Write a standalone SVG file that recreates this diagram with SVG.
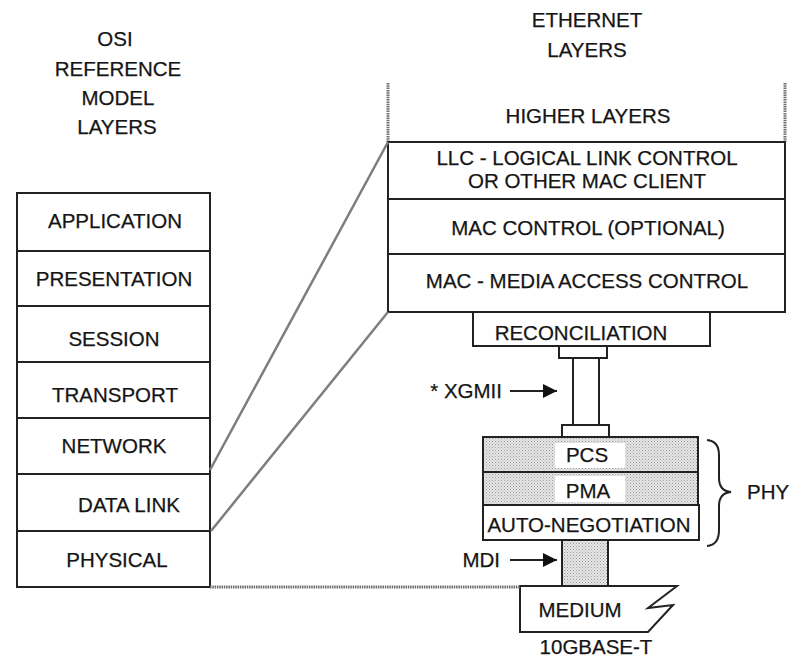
<svg xmlns="http://www.w3.org/2000/svg" width="789" height="658" viewBox="0 0 789 658">
  <defs>
    <pattern id="stipple" width="3" height="3" patternUnits="userSpaceOnUse">
      <rect width="3" height="3" fill="#e6e6e6"/>
      <rect width="1" height="1" fill="#9a9a9a"/>
      <rect x="1.5" y="1.5" width="1" height="1" fill="#b0b0b0"/>
    </pattern>
    <marker id="arrow" viewBox="0 0 10 10" refX="10" refY="5" markerWidth="14" markerHeight="14" markerUnits="userSpaceOnUse" orient="auto">
      <path d="M0,0 L10,5 L0,10 Z" fill="#111"/>
    </marker>
  </defs>
  <style>
    text { font-family: "Liberation Sans", Arial, sans-serif; font-size: 20.5px; fill: #151515; stroke: #151515; stroke-width: 0.25; }
    .c { text-anchor: middle; }
    .e { text-anchor: end; }
    .box { fill: #fff; stroke: #222; stroke-width: 2; }
    .shade { fill: url(#stipple); stroke: #222; stroke-width: 2; }
    .line { fill: none; stroke: #222; stroke-width: 2; }
    .hatch { fill: none; stroke: #6e6e6e; stroke-width: 3; stroke-dasharray: 1.5 0.8; }
    .slant { fill: none; stroke: #7e7e7e; stroke-width: 2.5; }
  </style>

  <rect width="789" height="658" fill="#fff"/>

  <!-- column headings -->
  <g id="osi-heading">
    <text class="c" x="115" y="46">OSI</text>
    <text class="c" x="118" y="76">REFERENCE</text>
    <text class="c" x="118" y="105">MODEL</text>
    <text class="c" x="117" y="134">LAYERS</text>
  </g>
  <g id="ethernet-heading">
    <text class="c" x="587" y="27">ETHERNET</text>
    <text class="c" x="587" y="57">LAYERS</text>
  </g>

  <!-- OSI seven-layer stack -->
  <g id="osi-application"><rect class="box" x="17" y="193" width="193" height="58"/><text class="c" x="115" y="228">APPLICATION</text></g>
  <g id="osi-presentation"><rect class="box" x="17" y="251" width="193" height="55"/><text class="c" x="114" y="286">PRESENTATION</text></g>
  <g id="osi-session"><rect class="box" x="17" y="306" width="193" height="56"/><text class="c" x="114" y="346">SESSION</text></g>
  <g id="osi-transport"><rect class="box" x="17" y="362" width="193" height="56"/><text class="c" x="115" y="402">TRANSPORT</text></g>
  <g id="osi-network"><rect class="box" x="17" y="418" width="193" height="56"/><text class="c" x="114" y="453">NETWORK</text></g>
  <g id="osi-datalink"><rect class="box" x="17" y="474" width="193" height="57"/><text class="c" x="129" y="512">DATA LINK</text></g>
  <g id="osi-physical"><rect class="box" x="17" y="531" width="193" height="56"/><text class="c" x="117" y="567">PHYSICAL</text></g>

  <!-- Ethernet stack -->
  <g id="eth-higher">
    <line class="hatch" x1="388" y1="83" x2="388" y2="142"/>
    <line class="hatch" x1="785" y1="83" x2="785" y2="142"/>
    <text class="c" x="588" y="123">HIGHER LAYERS</text>
  </g>
  <g id="eth-llc"><rect class="box" x="388" y="142" width="397" height="57"/>
    <text class="c" x="587" y="165">LLC - LOGICAL LINK CONTROL</text>
    <text class="c" x="587" y="188">OR OTHER MAC CLIENT</text></g>
  <g id="eth-mac-control"><rect class="box" x="388" y="199" width="397" height="55"/><text class="c" x="588" y="235">MAC CONTROL (OPTIONAL)</text></g>
  <g id="eth-mac"><rect class="box" x="388" y="254" width="397" height="58"/><text class="c" x="587" y="288">MAC - MEDIA ACCESS CONTROL</text></g>
  <g id="eth-reconciliation"><rect class="box" x="473" y="312" width="237" height="34"/><text class="c" x="581" y="340">RECONCILIATION</text></g>

  <!-- XGMII interface column -->
  <g id="xgmii">
    <rect class="box" x="559" y="346" width="48" height="12"/>
    <rect class="box" x="573" y="358" width="26" height="67"/>
    <rect class="box" x="562" y="425" width="47" height="12"/>
  </g>

  <!-- PHY sublayers -->
  <g id="phy-pcs"><rect class="shade" x="483" y="437" width="215" height="35"/>
    <rect x="555" y="443" width="70" height="25" fill="#fff"/>
    <text class="c" x="587" y="462">PCS</text></g>
  <g id="phy-pma"><rect class="shade" x="483" y="472" width="215" height="33"/>
    <rect x="555" y="476" width="70" height="26" fill="#fff"/>
    <text class="c" x="588" y="498">PMA</text></g>
  <g id="phy-autoneg"><rect class="box" x="483" y="505" width="216" height="35"/><text class="c" x="589" y="532">AUTO-NEGOTIATION</text></g>

  <!-- MDI column and medium -->
  <g id="mdi"><rect class="shade" x="562" y="540" width="46" height="46"/></g>
  <g id="medium">
    <path class="box" d="M520,586 L677,586 L648,608 L673,605 L648,632 L520,632 Z"/>
    <text class="c" x="580" y="617">MEDIUM</text>
    <text class="c" x="596" y="654">10GBASE-T</text>
  </g>

  <!-- PHY brace -->
  <g id="phy-brace">
    <path class="line" stroke-width="1.6" d="M707,440 Q719,441 719,455 L719,478 Q719,491 731,492 Q719,493 719,506 L719,530 Q719,545 707,546"/>
    <text x="747" y="499">PHY</text>
  </g>

  <!-- mapping lines and interface pointers -->
  <g id="connectors">
    <line class="slant" x1="210" y1="470" x2="388" y2="142"/>
    <line class="slant" x1="211" y1="531" x2="388" y2="312"/>
    <line class="hatch" x1="210" y1="587" x2="520" y2="587"/>
    <text class="e" x="502" y="398">* XGMII</text>
    <line class="line" x1="510" y1="391" x2="557" y2="391" marker-end="url(#arrow)"/>
    <text class="e" x="500" y="567">MDI</text>
    <line class="line" x1="510" y1="560" x2="557" y2="560" marker-end="url(#arrow)"/>
  </g>
</svg>
